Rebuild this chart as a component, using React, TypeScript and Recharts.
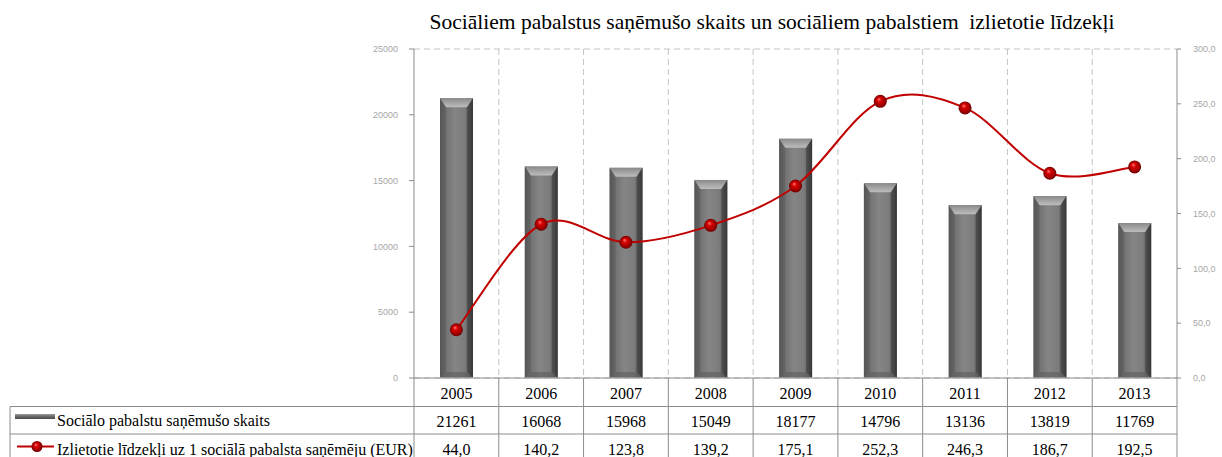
import React from 'react';
import { ComposedChart, Bar, Line, XAxis, YAxis, CartesianGrid } from 'recharts';

const years = ['2005', '2006', '2007', '2008', '2009', '2010', '2011', '2012', '2013'];
const recipients = [21261, 16068, 15968, 15049, 18177, 14796, 13136, 13819, 11769];
const spending = [44.0, 140.2, 123.8, 139.2, 175.1, 252.3, 246.3, 186.7, 192.5];
const leftTicks = [0, 5000, 10000, 15000, 20000, 25000];
const rightTicks = [0, 50, 100, 150, 200, 250, 300];
const chartTitle = 'Sociāliem pabalstus saņēmušo skaits un sociāliem pabalstiem  izlietotie līdzekļi';
const seriesNames = [
  'Sociālo pabalstu saņēmušo skaits',
  'Izlietotie līdzekļi uz 1 sociālā pabalsta saņēmēju (EUR)',
];

const data = years.map((year, i) => ({ year, count: recipients[i], eur: spending[i] }));

const fmt1 = (v: number) => v.toFixed(1).replace('.', ',');

const W = 1222;
const H = 457;
const BORDER = '#8c8c8c';
const SERIF = '"Liberation Serif", "Times New Roman", serif';
const SANS = '"Liberation Sans", Arial, sans-serif';

// Excel-like smoothing (Catmull-Rom as cubic Bezier)
function excelSmooth(context: any) {
  let pts: number[][] = [];
  return {
    areaStart() {},
    areaEnd() {},
    lineStart() {
      pts = [];
    },
    point(x: number, y: number) {
      pts.push([+x, +y]);
    },
    lineEnd() {
      const n = pts.length;
      if (!n) return;
      context.moveTo(pts[0][0], pts[0][1]);
      for (let i = 0; i < n - 1; i++) {
        const p0 = pts[i - 1] || pts[i];
        const p1 = pts[i];
        const p2 = pts[i + 1];
        const p3 = pts[i + 2] || p2;
        const c1x = p1[0] + (p2[0] - p0[0]) / 6;
        const c1y = p1[1] + (p2[1] - p0[1]) / 6;
        const c2x = p2[0] - (p3[0] - p1[0]) / 6;
        const c2y = p2[1] - (p3[1] - p1[1]) / 6;
        context.bezierCurveTo(c1x, c1y, c2x, c2y, p2[0], p2[1]);
      }
    },
  };
}

const BevelBar = (props: any) => {
  const { x, y, width, height } = props;
  if (!height || height <= 0) return null;
  const b = Math.min(9, height / 3);
  const s = 6;
  return (
    <g>
      <rect x={x} y={y} width={width} height={height} fill="url(#barBody)" />
      <polygon
        points={`${x},${y} ${x + width},${y} ${x + width - s},${y + b} ${x + s},${y + b}`}
        fill="url(#barTop)"
      />
      <polygon
        points={`${x},${y} ${x + s},${y + b} ${x + s},${y + height - 6} ${x},${y + height}`}
        fill="#4a4a4a"
        opacity={0.35}
      />
      <polygon
        points={`${x + width},${y} ${x + width - s},${y + b} ${x + width - s},${y + height - 6} ${x + width},${y + height}`}
        fill="#2e2e2e"
        opacity={0.45}
      />
      <polygon
        points={`${x},${y + height} ${x + width},${y + height} ${x + width - s},${y + height - 6} ${x + s},${y + height - 6}`}
        fill="#5e5e5e"
        opacity={0.6}
      />
      <line x1={x} y1={y + height - 0.5} x2={x + width} y2={y + height - 0.5} stroke="#9a9a9a" strokeWidth={1} />
    </g>
  );
};

const Ball = (props: any) => {
  const { cx, cy, index } = props;
  if (cx == null || cy == null) return null;
  return <circle key={`dot-${index}`} cx={cx} cy={cy} r={6.5} fill="url(#redBall)" />;
};

const TableTick = (props: any) => {
  const { x, y, index, payload, width, visibleTicksCount } = props;
  const bw = width && visibleTicksCount ? width / visibleTicksCount : 763 / 9;
  const top = y;
  const r1 = top + 28.5;
  const r2 = top + 56;
  const bottom = top + 90;
  const left = x - bw / 2;
  const right = x + bw / 2;
  const i = index;
  return (
    <g>
      {i === 0 && (
        <g>
          <line x1={left} y1={top} x2={left} y2={bottom} stroke={BORDER} />
          <line x1={10} y1={r1} x2={left} y2={r1} stroke={BORDER} />
          <line x1={10} y1={r2} x2={left} y2={r2} stroke={BORDER} />
          <line x1={10} y1={r1} x2={10} y2={bottom} stroke={BORDER} />
          <rect x={15} y={top + 36} width={40} height={5} fill="url(#legendBar)" />
          <line x1={17} y1={top + 68.5} x2={54} y2={top + 68.5} stroke="#c00000" strokeWidth={2} />
          <circle cx={37} cy={top + 68.5} r={5.5} fill="url(#redBall)" />
          <text x={57} y={top + 48} fontFamily={SERIF} fontSize={16} fill="#000">
            {seriesNames[0]}
          </text>
          <text x={57} y={top + 76.5} fontFamily={SERIF} fontSize={16} fill="#000">
            {seriesNames[1]}
          </text>
        </g>
      )}
      <line x1={right} y1={top} x2={right} y2={bottom} stroke={BORDER} />
      <line x1={left} y1={r1} x2={right} y2={r1} stroke={BORDER} />
      <line x1={left} y1={r2} x2={right} y2={r2} stroke={BORDER} />
      <text x={x} y={top + 21} textAnchor="middle" fontFamily={SERIF} fontSize={16} fill="#000">
        {payload.value}
      </text>
      <text x={x} y={top + 48.5} textAnchor="middle" fontFamily={SERIF} fontSize={16} fill="#000">
        {String(recipients[i])}
      </text>
      <text x={x} y={top + 76.5} textAnchor="middle" fontFamily={SERIF} fontSize={16} fill="#000">
        {fmt1(spending[i])}
      </text>
    </g>
  );
};

export default function App() {
  return (
    <div style={{ position: 'absolute', left: 0, top: 0, width: W, height: H, background: '#fff' }}>
      <svg width={0} height={0} style={{ position: 'absolute' }}>
        <defs>
          <linearGradient id="barBody" x1="0" y1="0" x2="1" y2="0">
            <stop offset="0" stopColor="#5c5c5c" />
            <stop offset="0.15" stopColor="#707070" />
            <stop offset="0.45" stopColor="#858585" />
            <stop offset="0.75" stopColor="#7c7c7c" />
            <stop offset="0.9" stopColor="#5a5a5a" />
            <stop offset="1" stopColor="#3e3e3e" />
          </linearGradient>
          <linearGradient id="barTop" x1="0" y1="0" x2="0" y2="1">
            <stop offset="0" stopColor="#8a8a8a" />
            <stop offset="0.6" stopColor="#a9a9a9" />
            <stop offset="1" stopColor="#bdbdbd" />
          </linearGradient>
          <linearGradient id="legendBar" x1="0" y1="0" x2="0" y2="1">
            <stop offset="0" stopColor="#9a9a9a" />
            <stop offset="0.5" stopColor="#6a6a6a" />
            <stop offset="1" stopColor="#4a4a4a" />
          </linearGradient>
          <radialGradient id="redBall" cx="0.5" cy="0.5" r="0.5" fx="0.38" fy="0.32">
            <stop offset="0" stopColor="#ff7a7a" />
            <stop offset="0.35" stopColor="#d80000" />
            <stop offset="0.8" stopColor="#9a0000" />
            <stop offset="1" stopColor="#660000" />
          </radialGradient>
        </defs>
      </svg>
      <div
        style={{
          position: 'absolute',
          left: 0,
          top: 8,
          width: W,
          paddingLeft: 322,
          boxSizing: 'border-box',
          textAlign: 'center',
          fontFamily: SERIF,
          fontSize: 21.5,
          lineHeight: '28px',
          color: '#000',
          whiteSpace: 'pre',
          zIndex: 2,
        }}
      >
        {chartTitle}
      </div>
      <ComposedChart
        width={W}
        height={H}
        data={data}
        margin={{ top: 49, right: 0, left: 0, bottom: 0 }}
        barCategoryGap="0%"
        style={{ position: 'absolute', left: 0, top: 0 }}
      >
        <CartesianGrid
          stroke="#c3c3c3"
          strokeDasharray="6 4"
          horizontal
          vertical
          syncWithTicks={false}
          verticalCoordinatesGenerator={(p: any) => {
            const off = p.offset;
            const out: number[] = [];
            for (let k = 1; k < years.length; k++) out.push(off.left + (off.width * k) / years.length);
            return out;
          }}
        />
        <XAxis
          dataKey="year"
          xAxisId="x"
          height={79}
          interval={0}
          tickSize={0}
          tickMargin={0}
          tickLine={false}
          axisLine={{ stroke: BORDER }}
          tick={<TableTick />}
        />
        <YAxis
          yAxisId="left"
          orientation="left"
          width={414}
          domain={[0, 25000]}
          ticks={leftTicks}
          interval={0}
          tickSize={5}
          tickMargin={11}
          axisLine={{ stroke: BORDER }}
          tickLine={{ stroke: BORDER }}
          tick={{ fontFamily: SANS, fontSize: 9, fill: '#a6a6a6' }}
        />
        <YAxis
          yAxisId="right"
          orientation="right"
          width={45}
          domain={[0, 300]}
          ticks={rightTicks}
          interval={0}
          tickSize={4}
          tickMargin={12}
          tickFormatter={(v: number) => fmt1(v)}
          axisLine={{ stroke: BORDER }}
          tickLine={{ stroke: BORDER }}
          tick={{ fontFamily: SANS, fontSize: 9, fill: '#a6a6a6', textAnchor: 'start' }}
        />
        <Bar
          dataKey="count"
          xAxisId="x"
          yAxisId="left"
          barSize={33}
          shape={<BevelBar />}
          isAnimationActive={false}
        />
        <Line
          dataKey="eur"
          xAxisId="x"
          yAxisId="right"
          type={excelSmooth as any}
          stroke="#c00000"
          strokeWidth={2}
          dot={<Ball />}
          activeDot={false}
          isAnimationActive={false}
        />
      </ComposedChart>
    </div>
  );
}
